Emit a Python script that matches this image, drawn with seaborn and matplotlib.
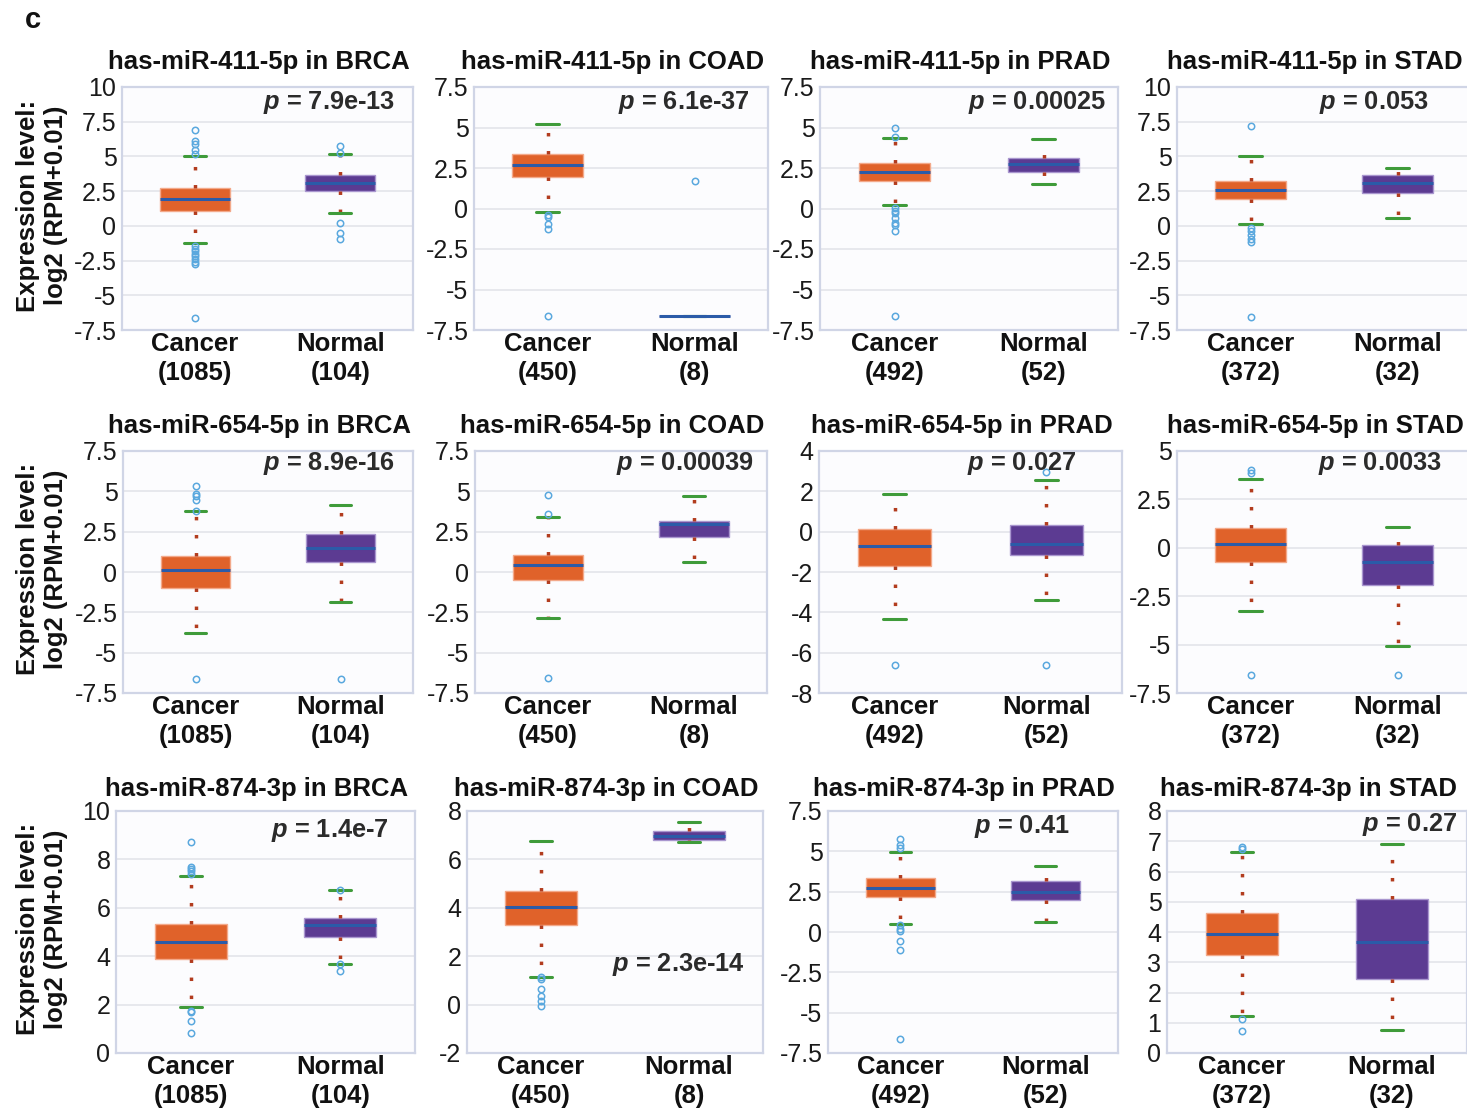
import matplotlib
matplotlib.use("Agg")
import matplotlib.pyplot as plt
import numpy as np
import seaborn as sns

# ---------------------------------------------------------------- data
mirnas = ["has-miR-411-5p", "has-miR-654-5p", "has-miR-874-3p"]
cancers = ["BRCA", "COAD", "PRAD", "STAD"]
groups = ["Cancer", "Normal"]
cancer_n = [1085, 450, 492, 372]
normal_n = [104, 8, 52, 32]

p_labels = [
    ["7.9e-13", "6.1e-37", "0.00025", "0.053"],
    ["8.9e-16", "0.00039", "0.027", "0.0033"],
    ["1.4e-7", "2.3e-14", "0.41", "0.27"],
]

y_limits = [
    [(-7.5, 10), (-7.5, 7.5), (-7.5, 7.5), (-7.5, 10)],
    [(-7.5, 7.5), (-7.5, 7.5), (-8, 4), (-7.5, 5)],
    [(0, 10), (-2, 8), (-7.5, 7.5), (0, 8)],
]
y_steps = [
    [2.5, 2.5, 2.5, 2.5],
    [2.5, 2.5, 2, 2.5],
    [2, 2, 2.5, 1],
]

# box statistics, log2(RPM+0.01)
cancer_q1 = [
    [1.08, 1.94, 1.72, 1.90],
    [-1.01, -0.52, -1.70, -0.71],
    [3.90, 3.27, 2.16, 3.25],
]
cancer_med = [
    [1.93, 2.67, 2.26, 2.55],
    [0.13, 0.42, -0.73, 0.22],
    [4.58, 4.03, 2.70, 3.94],
]
cancer_q3 = [
    [2.70, 3.39, 2.82, 3.22],
    [1.01, 1.08, 0.13, 1.04],
    [5.34, 4.71, 3.34, 4.63],
]
cancer_lo = [
    [-1.22, -0.20, 0.22, 0.10],
    [-3.77, -2.88, -4.34, -3.24],
    [1.89, 1.14, 0.50, 1.23],
]
cancer_hi = [
    [5.02, 5.22, 4.38, 5.02],
    [3.77, 3.40, 1.87, 3.53],
    [7.32, 6.76, 4.95, 6.65],
]
cancer_out = [
    [[6.93, 6.08, 5.91, 5.43, 5.19, -1.48, -1.65, -1.82, -2.01, -2.18, -2.38, -2.62, -2.74, -6.65],
     [-0.38, -0.53, -0.96, -1.26, -6.61],
     [5.00, 4.42, 0.06, -0.13, -0.30, -0.57, -0.88, -1.02, -1.40, -6.64],
     [7.16, -0.17, -0.38, -0.63, -0.94, -1.18, -6.59]],
    [[5.36, 4.84, 4.70, 4.49, 3.77, -6.61],
     [4.75, 3.58, -6.60],
     [-6.60],
     [4.00, 3.84, -6.59]],
    [[8.72, 7.70, 7.61, 7.52, 7.41, 1.75, 1.70, 1.31, 0.83],
     [1.12, 1.04, 0.64, 0.35, 0.14, -0.06],
     [5.74, 5.39, 5.18, 0.42, 0.19, 0.05, -0.57, -1.09, -6.62],
     [6.82, 6.73, 1.12, 0.72]],
]

normal_q1 = [
    [2.53, -6.63, 2.24, 2.36],
    [0.61, 2.19, -1.15, -1.94],
    [4.81, 6.81, 2.01, 2.43],
]
normal_med = [
    [3.06, -6.63, 2.76, 3.10],
    [1.48, 2.96, -0.62, -0.74],
    [5.27, 6.96, 2.51, 3.66],
]
normal_q3 = [
    [3.67, -6.63, 3.13, 3.68],
    [2.35, 3.19, 0.33, 0.12],
    [5.59, 7.17, 3.15, 5.08],
]
normal_lo = [
    [0.96, -6.63, 1.53, 0.58],
    [-1.84, 0.63, -3.39, -5.07],
    [3.68, 6.71, 0.63, 0.77],
]
normal_hi = [
    [5.21, -6.63, 4.28, 4.18],
    [4.18, 4.73, 2.54, 1.07],
    [6.72, 7.56, 4.08, 6.90],
]
normal_out = [
    [[5.77, 5.24, 0.21, -0.49, -0.95], [1.69], [], []],
    [[-6.61], [], [2.95, -6.60], [-6.59]],
    [[6.73, 3.66, 3.38], [], [], []],
]

# ---------------------------------------------------------------- layout (pixels)
W, H = 1467, 1109
row_top = [87, 451, 811]
row_bottom = [330, 693, 1053]
col_left = [[122, 474, 820, 1177], [123, 475, 819, 1177], [116, 467, 828, 1167]]
col_right = [[413, 768, 1118, 1471], [413, 767, 1122, 1471], [415, 763, 1118, 1467]]
title_pad = [13, 13, 11]
p_pos = [
    [(0.71, 0.938), (0.714, 0.938), (0.73, 0.938), (0.67, 0.938)],
    [(0.71, 0.95), (0.72, 0.95), (0.67, 0.95), (0.69, 0.95)],
    [(0.716, 0.92), (0.716, 0.365), (0.67, 0.934), (0.81, 0.946)],
]

# ---------------------------------------------------------------- style
sns.set_theme(style="whitegrid")
plt.rcParams["font.family"] = ["Liberation Sans", "DejaVu Sans"]
plt.rcParams["axes.unicode_minus"] = False
plt.rcParams["mathtext.fontset"] = "custom"
plt.rcParams["mathtext.bfit"] = "Liberation Sans:italic:bold"
plt.rcParams["mathtext.rm"] = "Liberation Sans:bold"

BOX_FACE = ["#E0622A", "#5C3B92"]
BOX_EDGE = ["#F3A98A", "#A996CF"]
FRAME = "#D0D5E6"
GRID = "#E3E4EA"

fig = plt.figure(figsize=(W / 100, H / 100), dpi=100)
fig.patch.set_facecolor("white")


def px_box(left, right, top, bottom):
    return [left / W, 1 - bottom / H, (right - left) / W, (bottom - top) / H]


for r, mirna in enumerate(mirnas):
    for c, cancer in enumerate(cancers):
        ax = fig.add_axes(px_box(col_left[r][c], col_right[r][c], row_top[r], row_bottom[r]))
        ax.set_facecolor("#FCFCFE")

        stats = [
            dict(q1=cancer_q1[r][c], med=cancer_med[r][c], q3=cancer_q3[r][c],
                 whislo=cancer_lo[r][c], whishi=cancer_hi[r][c],
                 fliers=np.array(cancer_out[r][c])),
            dict(q1=normal_q1[r][c], med=normal_med[r][c], q3=normal_q3[r][c],
                 whislo=normal_lo[r][c], whishi=normal_hi[r][c],
                 fliers=np.array(normal_out[r][c])),
        ]
        bp = ax.bxp(
            stats, positions=[0, 1], widths=0.48, capwidths=0.15,
            patch_artist=True, showfliers=True,
            boxprops=dict(linewidth=1.0),
            whiskerprops=dict(color="#B23C1E", linestyle=(0, (1, 4.2)), linewidth=2.5),
            capprops=dict(color="#3F9B3A", linewidth=2.2),
            medianprops=dict(color="#2B5BA8", linewidth=2.2),
            flierprops=dict(marker="o", markersize=4.6, markerfacecolor="none",
                            markeredgecolor="#5AA8DE", markeredgewidth=1.1),
        )
        for patch, fc, ec in zip(bp["boxes"], BOX_FACE, BOX_EDGE):
            patch.set_facecolor(fc)
            patch.set_edgecolor(ec)
        for fl in bp["fliers"]:
            fl.set_zorder(4)

        lo, hi = y_limits[r][c]
        ax.set_ylim(lo, hi)
        ticks = np.arange(lo, hi + 1e-9, y_steps[r][c])
        ax.set_yticks(ticks)
        ax.set_yticklabels([f"{t:g}" for t in ticks], fontsize=18, color="#1a1a1a")

        ax.set_xlim(-0.5, 1.5)
        ax.set_xticks([0, 1])
        ns = [cancer_n[c], normal_n[c]]
        ax.set_xticklabels([f"{g}\n({n})" for g, n in zip(groups, ns)],
                           fontsize=18.5, fontweight="bold", color="#111111",
                           linespacing=1.25)
        ax.tick_params(axis="y", length=0, pad=4)
        ax.tick_params(axis="x", length=0, pad=1.5)

        ax.grid(axis="y", color=GRID, linewidth=1.2)
        ax.grid(axis="x", visible=False)
        ax.set_axisbelow(True)
        for sp in ax.spines.values():
            sp.set_visible(True)
            sp.set_color(FRAME)
            sp.set_linewidth(1.6)

        ax.set_title(f"{mirna} in {cancer}", x=0.47, pad=title_pad[r],
                     fontsize=18.5, fontweight="bold", color="#111111")

        px, py = p_pos[r][c]
        ax.text(px, py, r"$\mathbfit{p}$ = " + p_labels[r][c], transform=ax.transAxes,
                ha="center", va="center", fontsize=18.3, fontweight="bold",
                color="#2b2b2b", zorder=6)

    yc = (row_top[r] + row_bottom[r]) / 2 - 3
    fig.text(42 / W, 1 - yc / H, "Expression level:\nlog2 (RPM+0.01)",
             rotation=90, ha="center", va="center", multialignment="center",
             fontsize=18.5, fontweight="bold", color="#111111", linespacing=1.25)

fig.text(33 / W, 1 - 20 / H, "c", ha="center", va="center",
         fontsize=21, fontweight="bold", color="#111111")

fig.savefig("out.png", dpi=100)
